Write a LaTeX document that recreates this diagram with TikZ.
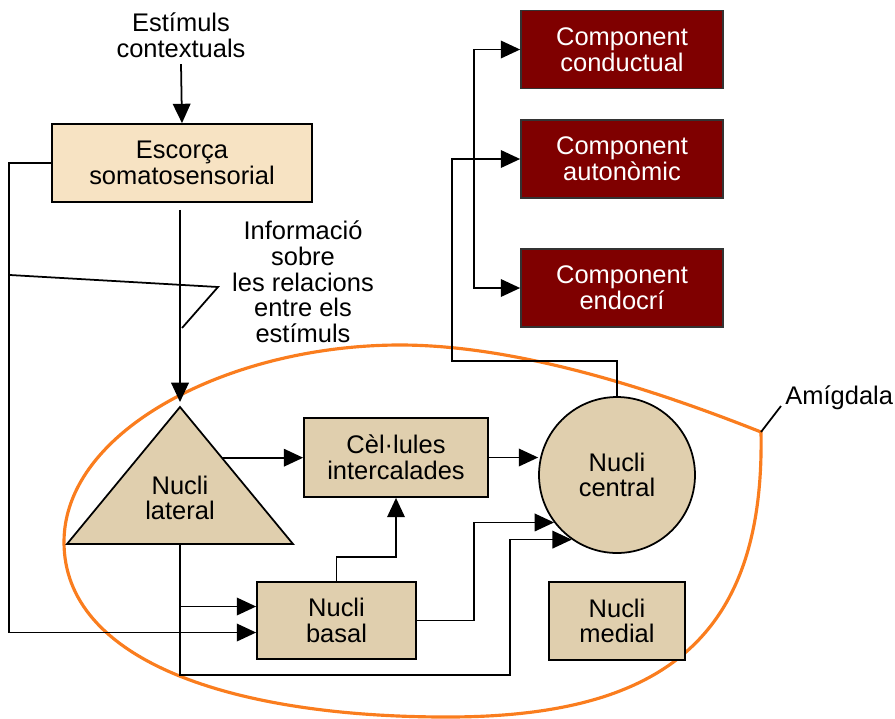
\documentclass[tikz,border=0pt]{standalone}
\usepackage{fontspec}
\setmainfont{Liberation Sans}
\usepackage{tikz}
\usetikzlibrary{arrows.meta}
\usetikzlibrary{calc}
\tikzset{arr/.style = {-{Triangle[length=11pt, width=10pt]}}}
\definecolor{nucbeige}{RGB}{224, 207, 174}
\definecolor{cortex}{RGB}{247, 227, 195}
\definecolor{outred}{RGB}{127, 0, 0}
\definecolor{amigorange}{RGB}{250, 125, 30}
\tikzset{nucbox/.style = {draw, fill=nucbeige, align=center, inner sep=0pt},
         outbox/.style = {draw=black!80, fill=outred, text=white, align=center, inner sep=0pt,
                          minimum width=4.04cm, minimum height=1.56cm}}

\begin{document}
\begin{tikzpicture}[x=0.02cm, y=-0.02cm, line width=1pt, font=\fontsize{14.5}{14.6}\selectfont]
    \useasboundingbox (0, 0) rectangle (895, 718);

    % amigdala
    \coordinate (amigC) at (761, 432);
    \draw [amigorange, line width=1.8pt] (amigC) .. controls (765, 640) and (660, 717) .. (447, 717)
      .. controls (230, 717) and (64, 660) .. (64, 542)
      .. controls (64, 430) and (230, 345) .. (400, 345)
      .. controls (530, 345) and (680, 400) .. (amigC) -- cycle;
    \node [anchor=west, inner sep=2pt] (amig) at (781, 398) {Amígdala};
    \draw (amigC) -- ([yshift=-0.16cm]amig.west);

    % nodes
    \node [align=center] (estim) at (181, 35) {Estímuls\\contextuals};
    \node [nucbox, fill=cortex, minimum width=5.2cm, minimum height=1.56cm] (esc) at (182, 163) {Escorça\\somatosensorial};
    \node [align=center] (info) at (303, 282) {Informació\\sobre\\les relacions\\entre els\\estímuls};

    \coordinate (latTop) at (180, 407);
    \coordinate (latL) at (67, 544);
    \coordinate (latR) at (293, 544);
    \draw [fill=nucbeige] (latTop) -- (latL) -- (latR) -- cycle;
    \node [align=center] (lat) at (180, 498) {Nucli\\lateral};

    \node [nucbox, minimum width=3.68cm, minimum height=1.58cm] (inter) at (396, 457.5) {Cèl·lules\\intercalades};
    \node [nucbox, minimum width=3.18cm, minimum height=1.54cm] (bas) at (336.5, 620.5) {Nucli\\basal};
    \node [nucbox, minimum width=2.72cm, minimum height=1.56cm] (med) at (617, 621) {Nucli\\medial};
    \node [nucbox, circle, minimum size=3.12cm] (cen) at (617, 475) {Nucli\\central};

    \node [outbox] (cond) at (622, 49.5) {Component\\conductual};
    \node [outbox] (aut) at (622, 159) {Component\\autonòmic};
    \node [outbox] (endo) at (622, 288) {Component\\endocrí};

    % connectors
    \draw [arr] (estim.south) -- (esc.north);
    \coordinate (latIn) at (180, 402);
    \draw [arr] ($(esc.south -| latTop) + (0, 7)$) -- (latIn);
    \draw (10, 275) -- (218, 287) -- (182, 328);

    \coordinate (basIn1) at ($(bas.west) + (0, -14)$);
    \coordinate (basIn2) at ($(bas.west) + (0, 12)$);
    \draw [arr] (esc.west) -- ++(-42, 0) |- (basIn2);
    \coordinate (latB) at (180, 544);
    \draw [arr] (latB |- basIn1) -- (basIn1);
    \draw [arr] (latB) -- ++(0, 131) -- ++(330, 0) |- (cen.235);

    \coordinate (latE) at ($(latTop)!0.37!(latR)$);
    \draw [arr] (latE) -- (latE -| inter.west);
    \draw [arr] (inter.east) -- (inter.east -| cen.west);
    \draw [arr] (bas.north) -- ++(0, -24) -| (inter.south);
    \draw [arr] (bas.east) -- ++(57, 0) |- (cen.217);

    \draw [arr] (cen.north) -- ++(0, -35) -- ++(-165, 0) |- (aut.west);
    \coordinate (split) at (474, 159);
    \draw [arr] (split) |- (cond.west);
    \draw [arr] (split) |- (endo.west);
  \end{tikzpicture}
\end{document}
